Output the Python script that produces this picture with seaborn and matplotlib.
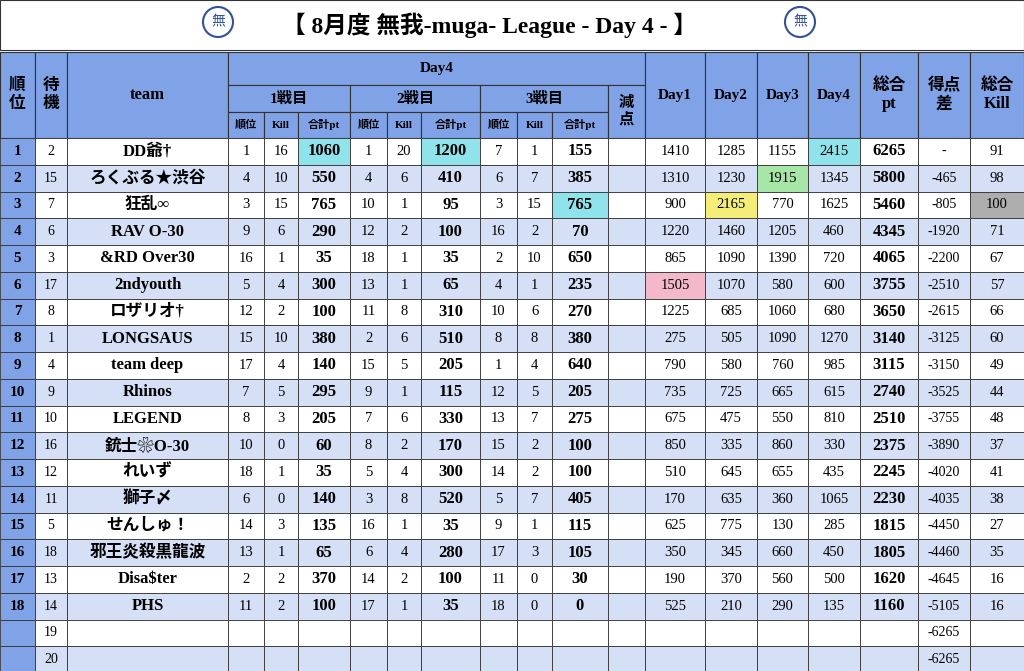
import matplotlib
matplotlib.use("Agg")
import matplotlib.pyplot as plt
import seaborn as sns
from matplotlib.patches import Rectangle, Circle

sns.set_theme(style="white")
plt.rcParams['font.family'] = ['Liberation Serif', 'Noto Sans CJK JP', 'DejaVu Sans']

title = "【 8月度 無我-muga- League - Day 4 - 】"
ranks = list(range(1, 19))
wait = [2,15,7,6,3,17,8,1,4,9,10,16,12,11,5,18,13,14,19,20]
teams = ["DD爺†","ろくぶる★渋谷","狂乱∞","RAV O-30","&RD Over30","2ndyouth","ロザリオ†","LONGSAUS",
         "team deep","Rhinos","LEGEND","銃士❀O-30","れいず","獅子〆","せんしゅ！","邪王炎殺黒龍波","Disa$ter","PHS"]
g1_rank = [1,4,3,9,16,5,12,15,17,7,8,10,18,6,14,13,2,11]
g1_kill = [16,10,15,6,1,4,2,10,4,5,3,0,1,0,3,1,2,2]
g1_pt = [1060,550,765,290,35,300,100,380,140,295,205,60,35,140,135,65,370,100]
g2_rank = [1,4,10,12,18,13,11,2,15,9,7,8,5,3,16,6,14,17]
g2_kill = [20,6,1,2,1,1,8,6,5,1,6,2,4,8,1,4,2,1]
g2_pt = [1200,410,95,100,35,65,310,510,205,115,330,170,300,520,35,280,100,35]
g3_rank = [7,6,3,16,2,4,10,8,1,12,13,15,14,5,9,17,11,18]
g3_kill = [1,7,15,2,10,1,6,8,4,5,7,2,2,7,1,3,0,0]
g3_pt = [155,385,765,70,650,235,270,380,640,205,275,100,100,405,115,105,30,0]
day1 = [1410,1310,900,1220,865,1505,1225,275,790,735,675,850,510,170,625,350,190,525]
day2 = [1285,1230,2165,1460,1090,1070,685,505,580,725,475,335,645,635,775,345,370,210]
day3 = [1155,1915,770,1205,1390,580,1060,1090,760,665,550,860,655,360,130,660,560,290]
day4 = [2415,1345,1625,460,720,600,680,1270,985,615,810,330,435,1065,285,450,500,135]
total = [6265,5800,5460,4345,4065,3755,3650,3140,3115,2740,2510,2375,2245,2230,1815,1805,1620,1160]
diff = ["-","-465","-805","-1920","-2200","-2510","-2615","-3125","-3150","-3525","-3755","-3890",
        "-4020","-4035","-4450","-4460","-4645","-5105","-6265","-6265"]
kills = [91,98,100,71,67,57,66,60,49,44,48,37,41,38,27,35,16,16]

W, H = 1024, 671
fig = plt.figure(figsize=(W/100, H/100), dpi=100)
ax = fig.add_axes([0, 0, 1, 1])
ax.set_xlim(0, W); ax.set_ylim(H, 0); ax.axis('off')

BLUE = "#7FA3E6"; LIGHT = "#D5E0F6"; LINE = "#333333"
CYAN = "#8FE3EA"; GREEN = "#A6E6A6"; YEL = "#F4EE78"; PINK = "#F3B8CA"; GRAY = "#AEAEAE"

xs = [0,35,67,228,264,298,350,387,421,480,517,552,608,645,705,757,808,860,918,970,1024]
top0, y_h1, y_h2, y_h3, y_body = 50, 52, 85, 112, 138
rh = 26.75

def box(x0, y0, x1, y1, fc, lw=0.8):
    ax.add_patch(Rectangle((x0, y0), x1-x0, y1-y0, facecolor=fc, edgecolor=LINE, lw=lw))

def txt(x, y, s, size=11, bold=False, **kw):
    ax.text(x, y, s, ha='center', va='center', fontsize=size,
            fontweight='bold' if bold else 'normal', color='black', **kw)

# title
box(0, 0, W, top0, "white")
txt(490, 25, title, size=17, bold=True)
for cx in (218, 800):
    ax.add_patch(Circle((cx, 22), 15, facecolor="white", edgecolor="#3050A0", lw=1.5))
    txt(cx, 22, "無", size=10, bold=True, color_=None) if False else ax.text(cx, 22, "無", ha='center', va='center', fontsize=10, color="#3050A0")

# header
box(0, y_h1, W, y_body, BLUE)
def hcell(i0, i1, y0, y1, s, size=11):
    box(xs[i0], y0, xs[i1], y1, BLUE)
    txt((xs[i0]+xs[i1])/2, (y0+y1)/2, s, size=size, bold=True)
hcell(0, 1, y_h1, y_body, "順\n位", 12)
hcell(1, 2, y_h1, y_body, "待\n機", 12)
hcell(2, 3, y_h1, y_body, "team", 12)
hcell(3, 13, y_h1, y_h2, "Day4", 11)
for k, lab in enumerate(["1戦目", "2戦目", "3戦目"]):
    i = 3 + 3*k
    hcell(i, i+3, y_h2, y_h3, lab, 11)
    for j, sub in enumerate(["順位", "Kill", "合計pt"]):
        hcell(i+j, i+j+1, y_h3, y_body, sub, 8)
hcell(12, 13, y_h2, y_body, "減\n点", 11)
for k, lab in enumerate(["Day1", "Day2", "Day3", "Day4"]):
    hcell(13+k, 14+k, y_h1, y_body, lab, 11)
hcell(17, 18, y_h1, y_body, "総合\npt", 12)
hcell(18, 19, y_h1, y_body, "得点\n差", 12)
hcell(19, 20, y_h1, y_body, "総合\nKill", 12)

highlight = {(0,5):CYAN,(0,8):CYAN,(2,11):CYAN,(0,16):CYAN,(1,15):GREEN,(2,14):YEL,(5,13):PINK,(2,19):GRAY}

for r in range(20):
    y0 = y_body + r*rh; y1 = y0 + rh; yc = (y0+y1)/2
    bg = "white" if r % 2 == 0 else LIGHT
    for c in range(20):
        fc = BLUE if c == 0 else highlight.get((r, c), bg)
        box(xs[c], y0, xs[c+1], y1, fc, lw=0.6)
    def put(c, s, size=11, bold=False):
        txt((xs[c]+xs[c+1])/2, yc, str(s), size=size, bold=bold)
    put(1, wait[r], 10)
    put(18, diff[r], 10)
    if r >= 18:
        continue
    put(0, ranks[r], 11, True)
    put(2, teams[r], 12, True)
    vals = [g1_rank[r], g1_kill[r], g1_pt[r], g2_rank[r], g2_kill[r], g2_pt[r], g3_rank[r], g3_kill[r], g3_pt[r]]
    for j, v in enumerate(vals):
        put(3+j, v, 12 if j % 3 == 2 else 10.5, j % 3 == 2)
    put(13, day1[r], 10.5); put(14, day2[r], 10.5); put(15, day3[r], 10.5); put(16, day4[r], 10.5)
    put(17, total[r], 12, True)
    put(19, kills[r], 10.5)

fig.savefig("out.png", dpi=100)
